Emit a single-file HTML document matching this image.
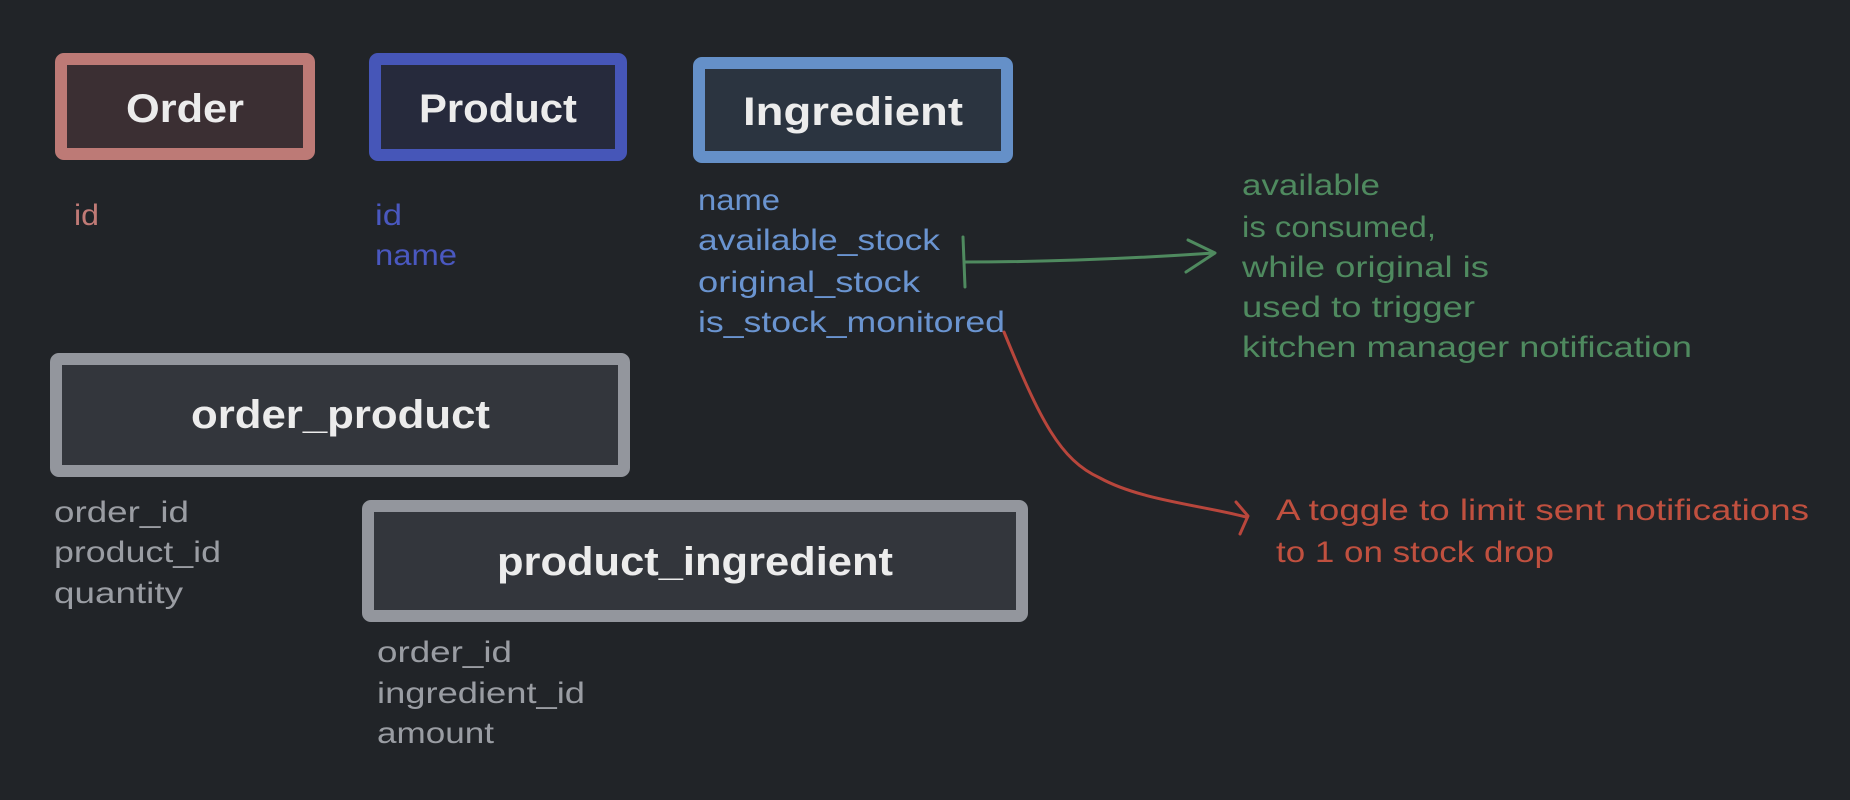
<!DOCTYPE html>
<html><head><meta charset="utf-8"><style>
html,body{margin:0;padding:0;background:#212428;}
svg{display:block}
text{font-family:"Liberation Sans",sans-serif;}
.t{font-size:40px;fill:#ececec;font-weight:bold;}
.a{font-size:30px;}
</style></head><body>
<svg width="1850" height="800" viewBox="0 0 1850 800" xmlns="http://www.w3.org/2000/svg">
<rect width="1850" height="800" fill="#212428"/>
<rect x="61" y="59" width="248" height="95" rx="3" fill="#3b2f33" stroke="#bd7a76" stroke-width="12"/>
<text class="t" x="126" y="122" textLength="118" lengthAdjust="spacingAndGlyphs">Order</text>
<text class="a" x="74" y="225" fill="#c07a76" textLength="25" lengthAdjust="spacingAndGlyphs">id</text>
<rect x="375" y="59" width="246" height="96" rx="3" fill="#262a3c" stroke="#4656b8" stroke-width="12"/>
<text class="t" x="419" y="122" textLength="158" lengthAdjust="spacingAndGlyphs">Product</text>
<text class="a" x="375" y="225" fill="#4a58c0" textLength="27" lengthAdjust="spacingAndGlyphs">id</text>
<text class="a" x="375" y="265" fill="#4a58c0" textLength="82" lengthAdjust="spacingAndGlyphs">name</text>
<rect x="699" y="63" width="308" height="94" rx="3" fill="#2b3440" stroke="#6590c8" stroke-width="12"/>
<text class="t" x="743" y="125" textLength="220" lengthAdjust="spacingAndGlyphs">Ingredient</text>
<g fill="#6a94d0">
<text class="a" x="698" y="210" textLength="82" lengthAdjust="spacingAndGlyphs">name</text>
<text class="a" x="698" y="250" textLength="242" lengthAdjust="spacingAndGlyphs">available_stock</text>
<text class="a" x="698" y="292" textLength="222" lengthAdjust="spacingAndGlyphs">original_stock</text>
<text class="a" x="698" y="332" textLength="307" lengthAdjust="spacingAndGlyphs">is_stock_monitored</text>
</g>
<rect x="56" y="359" width="568" height="112" rx="3" fill="#33363c" stroke="#93969d" stroke-width="12"/>
<text class="t" x="191" y="428" textLength="299" lengthAdjust="spacingAndGlyphs">order_product</text>
<g fill="#9a9da3">
<text class="a" x="54" y="522" textLength="135" lengthAdjust="spacingAndGlyphs">order_id</text>
<text class="a" x="54" y="562" textLength="167" lengthAdjust="spacingAndGlyphs">product_id</text>
<text class="a" x="54" y="603" textLength="129" lengthAdjust="spacingAndGlyphs">quantity</text>
</g>
<rect x="368" y="506" width="654" height="110" rx="3" fill="#33363c" stroke="#93969d" stroke-width="12"/>
<text class="t" x="497" y="575" textLength="396" lengthAdjust="spacingAndGlyphs">product_ingredient</text>
<g fill="#9a9da3">
<text class="a" x="377" y="662" textLength="135" lengthAdjust="spacingAndGlyphs">order_id</text>
<text class="a" x="377" y="703" textLength="208" lengthAdjust="spacingAndGlyphs">ingredient_id</text>
<text class="a" x="377" y="743" textLength="117" lengthAdjust="spacingAndGlyphs">amount</text>
</g>
<g stroke="#4f8a5f" stroke-width="3" fill="none" stroke-linecap="round" stroke-linejoin="round">
<path d="M963 237 L965 287"/>
<path d="M965 262 Q1080 262 1214 253"/>
<path d="M1188 240 L1215 253 L1186 272"/>
</g>
<g fill="#4f8a5f">
<text class="a" x="1242" y="195" textLength="138" lengthAdjust="spacingAndGlyphs">available</text>
<text class="a" x="1242" y="237" textLength="194" lengthAdjust="spacingAndGlyphs">is consumed,</text>
<text class="a" x="1242" y="277" textLength="247" lengthAdjust="spacingAndGlyphs">while original is</text>
<text class="a" x="1242" y="317" textLength="233" lengthAdjust="spacingAndGlyphs">used to trigger</text>
<text class="a" x="1242" y="357" textLength="450" lengthAdjust="spacingAndGlyphs">kitchen manager notification</text>
</g>
<g stroke="#b8463c" stroke-width="3" fill="none" stroke-linecap="round" stroke-linejoin="round">
<path d="M1004 332 C1040 420 1060 460 1100 478 C1140 500 1200 505 1246 517"/>
<path d="M1236 502 L1248 516 L1240 534"/>
</g>
<g fill="#c0503f">
<text class="a" x="1276" y="520" textLength="533" lengthAdjust="spacingAndGlyphs">A toggle to limit sent notifications</text>
<text class="a" x="1276" y="562" textLength="278" lengthAdjust="spacingAndGlyphs">to 1 on stock drop</text>
</g>
</svg>
</body></html>
